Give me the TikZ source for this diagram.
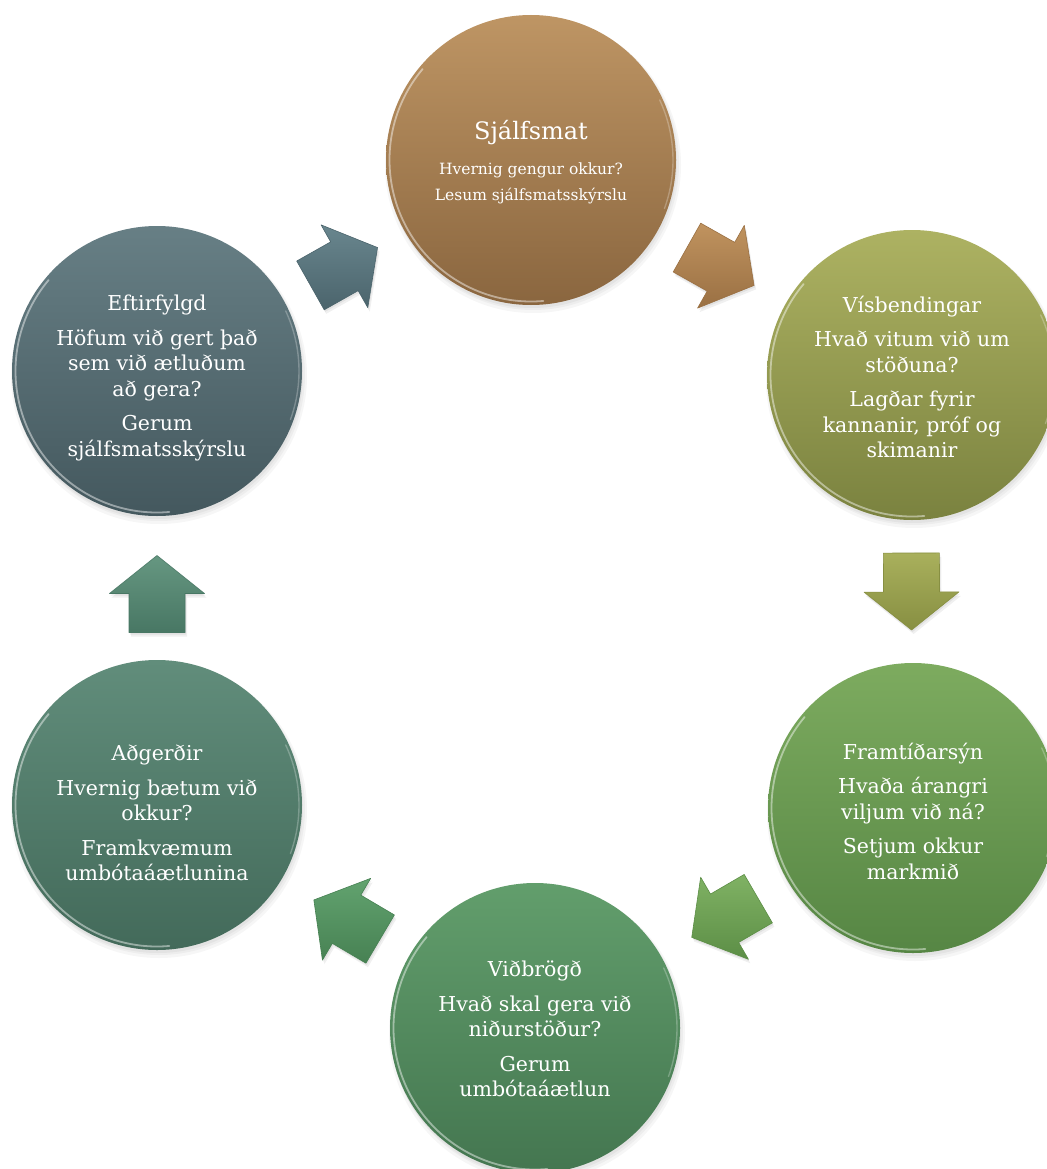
\documentclass[tikz,border=0pt]{standalone}
\usepackage{fontspec}
\setmainfont{DejaVu Serif}
\usetikzlibrary{calc}
\definecolor{c1t}{HTML}{BE9564}\definecolor{c1b}{HTML}{8A663F}
\definecolor{c2t}{HTML}{ADB262}\definecolor{c2b}{HTML}{7A823F}
\definecolor{c3t}{HTML}{7DAB5F}\definecolor{c3b}{HTML}{568644}
\definecolor{c4t}{HTML}{629E6C}\definecolor{c4b}{HTML}{447650}
\definecolor{c5t}{HTML}{618D7B}\definecolor{c5b}{HTML}{436A5A}
\definecolor{c6t}{HTML}{677F85}\definecolor{c6b}{HTML}{44585E}
\definecolor{a1t}{HTML}{C0935F}\definecolor{a1b}{HTML}{9A7043}
\definecolor{a2t}{HTML}{A9B05C}\definecolor{a2b}{HTML}{878F42}
\definecolor{a3t}{HTML}{80B264}\definecolor{a3b}{HTML}{5C8E46}
\definecolor{a4t}{HTML}{62A36F}\definecolor{a4b}{HTML}{478153}
\definecolor{a5t}{HTML}{669781}\definecolor{a5b}{HTML}{487764}
\definecolor{a6t}{HTML}{69868E}\definecolor{a6b}{HTML}{4B646C}
\tikzset{
  bubble/.style={circle, minimum size=290pt, inner sep=0pt, draw=none},
  bubbletext/.style={text=white, align=center, inner sep=0pt,
    font=\fontsize{20.5}{25.5}\selectfont},
  rim/.style={white, opacity=0.45, line width=1.8pt, line cap=round},
  rimfaint/.style={white, opacity=0.25, line width=1.4pt, line cap=round},
}
\newcommand\shadowat[1]{%
  \fill[black, opacity=0.035] ($(#1)+(2,5)$) circle[radius=148];
  \fill[black, opacity=0.035] ($(#1)+(2,4)$) circle[radius=146];
  \fill[black, opacity=0.04] ($(#1)+(1,3)$) circle[radius=145];
}
\newcommand\rimon[1]{%
  \draw[rim] ($(#1)+(-140:141.5)$) arc[start angle=-140, end angle=-275, radius=141.5];
  \draw[rimfaint] ($(#1)+(-340:142)$) arc[start angle=-340, end angle=-385, radius=142];
}
% arrow outline around centre #1, pointing to #2
\newcommand\arrowpath[2]{%
    ($(#1)!-38.5pt!(#2)!28pt!90:(#2)$) --
    ($(#1)!0.5pt!(#2)!28pt!90:(#2)$) --
    ($(#1)!0.5pt!(#2)!47.5pt!90:(#2)$) --
    ($(#1)!38.5pt!(#2)$) --
    ($(#1)!0.5pt!(#2)!47.5pt!-90:(#2)$) --
    ($(#1)!0.5pt!(#2)!28pt!-90:(#2)$) --
    ($(#1)!-38.5pt!(#2)!28pt!-90:(#2)$) -- cycle}
% block arrow from node #1 towards node #2, near their midpoint (offset #5)
\newcommand\blockarrow[5]{%
  \coordinate (m#1#2) at ($(#1)!0.5!(#2)+(#5)$);
  \coordinate (sm#1#2) at ($(m#1#2)+(2,4)$);
  \coordinate (st#1#2) at ($(#2)+(#5)+(2,4)$);
  \coordinate (sm2#1#2) at ($(m#1#2)+(1,2)$);
  \coordinate (st2#1#2) at ($(#2)+(#5)+(1,2)$);
  \coordinate (tg#1#2) at ($(#2)+(#5)$);
  \fill[black, opacity=0.06] \arrowpath{sm#1#2}{st#1#2};
  \fill[black, opacity=0.06] \arrowpath{sm2#1#2}{st2#1#2};
  \path[top color=#3, bottom color=#4, draw=#4, line width=0.6pt, line join=round]
    \arrowpath{m#1#2}{tg#1#2};
}
\begin{document}
\begin{tikzpicture}[x=1pt,y=-1pt]
\useasboundingbox (0,0) rectangle (1046,1169);
\fill[white] (0,0) rectangle (1046,1169);
\coordinate (o1) at (531,160);
\coordinate (o2) at (912,375);
\coordinate (o3) at (913,808);
\coordinate (o4) at (535,1028);
\coordinate (o5) at (157,805);
\coordinate (o6) at (157,371);
\foreach \o in {o1,o2,o3,o4,o5,o6} {\shadowat{\o}}

\node[bubble, top color=c1t, bottom color=c1b] (c1) at (o1) {};
\node[bubble, top color=c2t, bottom color=c2b] (c2) at (o2) {};
\node[bubble, top color=c3t, bottom color=c3b] (c3) at (o3) {};
\node[bubble, top color=c4t, bottom color=c4b] (c4) at (o4) {};
\node[bubble, top color=c5t, bottom color=c5b] (c5) at (o5) {};
\node[bubble, top color=c6t, bottom color=c6b] (c6) at (o6) {};
\foreach \c in {c1,c2,c3,c4,c5,c6} {\rimon{\c}}

\node[bubbletext, font=\fontsize{15.5}{26}\selectfont] (t1) at ($(c1)+(0,2)$)
  {{\fontsize{24}{26}\selectfont Sjálfsmat}\\[9pt]Hvernig gengur okkur?\\Lesum sjálfsmatsskýrslu};
\node[bubbletext] (t2) at ($(c2)+(0,2)$)
  {Vísbendingar\\[9pt]Hvað vitum við um\\stöðuna?\\[9pt]Lagðar fyrir\\kannanir, próf og\\skimanir};
\node[bubbletext] (t3) at ($(c3)+(0,3)$)
  {Framtíðarsýn\\[9pt]Hvaða árangri\\viljum við ná?\\[9pt]Setjum okkur\\markmið};
\node[bubbletext] (t4) at ($(c4)+(0,1)$)
  {Viðbrögð\\[9pt]Hvað skal gera við\\niðurstöður?\\[9pt]Gerum\\umbótaáætlun};
\node[bubbletext] (t5) at ($(c5)+(0,8)$)
  {Aðgerðir\\[9pt]Hvernig bætum við\\okkur?\\[9pt]Framkvæmum\\umbótaáætlunina};
\node[bubbletext] (t6) at ($(c6)+(0,7)$)
  {Eftirfylgd\\[9pt]Höfum við gert það\\sem við ætluðum\\að gera?\\[9pt]Gerum\\sjálfsmatsskýrslu};

\blockarrow{c1}{c2}{a1t}{a1b}{-1,-1}
\blockarrow{c2}{c3}{a2t}{a2b}{-1,0}
\blockarrow{c3}{c4}{a3t}{a3b}{1,0}
\blockarrow{c4}{c5}{a4t}{a4b}{1,3}
\blockarrow{c5}{c6}{a5t}{a5b}{0,6}
\blockarrow{c6}{c1}{a6t}{a6b}{0,1}
\end{tikzpicture}
\end{document}
